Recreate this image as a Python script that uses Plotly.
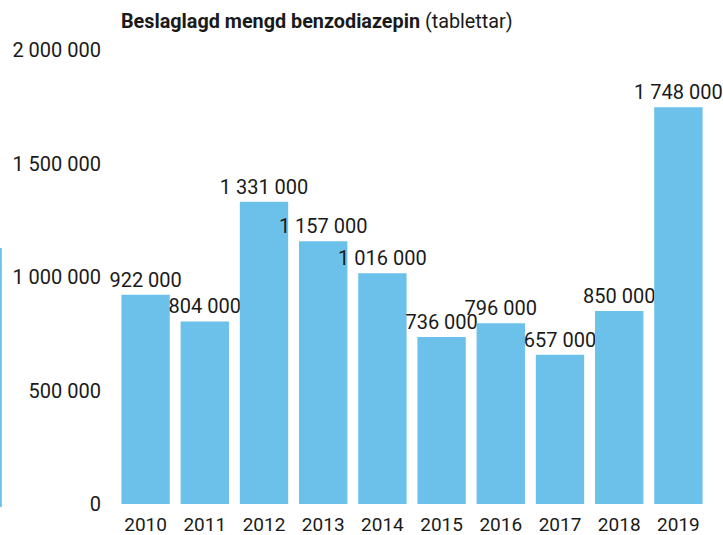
import plotly.graph_objects as go

years = ["2010", "2011", "2012", "2013", "2014", "2015", "2016", "2017", "2018", "2019"]
values = [922000, 804000, 1331000, 1157000, 1016000, 736000, 796000, 657000, 850000, 1748000]
y_ticks = [0, 500000, 1000000, 1500000, 2000000]

BLUE = "#6cc1ea"
FONT = "Roboto"
INK = "#1a1a1a"

fig = go.Figure(go.Bar(
    x=years, y=values,
    marker=dict(color=BLUE, line=dict(width=0)),
    texttemplate="%{y:,d}",
    textposition="outside",
    constraintext="none",
    textfont=dict(family=FONT, size=20, color=INK),
    cliponaxis=False,
))

W, H = 723, 535
ml, mr, mt, mb = 116.3, W - 707.6, 50, H - 504
pw, ph = W - ml - mr, H - mt - mb

fig.update_layout(
    width=W, height=H,
    margin=dict(l=ml, r=mr, t=mt, b=mb, pad=0),
    paper_bgcolor="white", plot_bgcolor="white",
    separators=". ",
    bargap=0.183,
    showlegend=False,
    font=dict(family=FONT, size=20, color=INK),
    xaxis=dict(showgrid=False, showline=False, zeroline=False,
               ticks="outside", ticklen=3, tickcolor="rgba(0,0,0,0)",
               tickfont=dict(family=FONT, size=19, color=INK), automargin=False),
    yaxis=dict(range=[0, 2000000], tickvals=y_ticks, tickformat=",d",
               showgrid=False, showline=False, zeroline=False,
               ticks="outside", ticklen=10, tickcolor="rgba(0,0,0,0)",
               tickfont=dict(family=FONT, size=20, color=INK), automargin=False),
    annotations=[dict(
        text="<b>Beslaglagd mengd benzodiazepin</b> (tablettar)",
        xref="paper", yref="paper", x=(119 - ml) / pw, y=1 + (mt - 21.5) / ph,
        xanchor="left", yanchor="middle", showarrow=False,
        font=dict(family=FONT, size=19.8, color=INK),
    )],
    shapes=[dict(
        type="line", xref="paper", yref="paper",
        x0=(1 - ml) / pw, x1=(1 - ml) / pw,
        y0=(H - mb - 248) / ph, y1=(H - mb - 507) / ph,
        line=dict(color=BLUE, width=2.5),
    )],
)

fig.write_html("out.html", config={"displayModeBar": False},
               post_script="document.body.style.margin='0';")
